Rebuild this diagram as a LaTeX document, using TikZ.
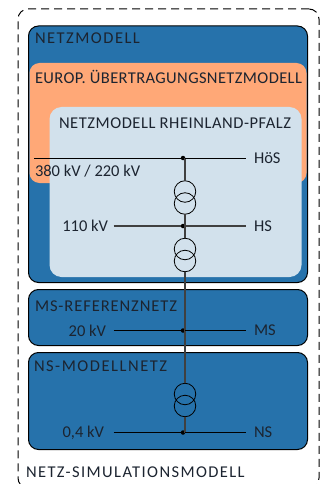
\documentclass[tikz,border=0pt]{standalone}
\usepackage{fontspec}
\setmainfont{Carlito}
\usetikzlibrary{positioning}
\definecolor{netzblue}{HTML}{2672AB}
\definecolor{europorange}{HTML}{FFA877}
\definecolor{rlplight}{HTML}{D2E1EC}
\definecolor{textdark}{HTML}{1C2430}
\definecolor{busgray}{HTML}{404040}

\begin{document}
\begin{tikzpicture}[x=1pt,y=-1pt,font=\fontsize{16.5}{20}\selectfont,text=textdark,
                    every node/.style={inner sep=0pt,outer sep=0pt},
                    region/.style={rectangle, anchor=north west, rounded corners=10pt},
                    netzbox/.style={region, draw=black, line width=1pt, fill=netzblue},
                    title/.style={anchor=west, font=\fontsize{16.5}{20}\selectfont\addfontfeature{LetterSpace=#1}},
                    bus/.style={line width=1pt, draw=black},
                    busthick/.style={line width=1.3pt, draw=busgray},
                    junction/.style={circle, fill=black, minimum size=4.5pt},
                    winding/.style={circle, draw=black, line width=0.8pt, minimum size=21.5pt},
                    feeder/.style={line width=1.2pt, draw=busgray}]
    \useasboundingbox (0,0) rectangle (322,484);
    \node (sim)    [region, draw=black, line width=1pt, dash pattern=on 8pt off 5pt,
                    minimum width=301pt, minimum height=479pt] at (18,9) {};
    \node (netz)   [netzbox, minimum width=279pt, minimum height=256.5pt] at (28.5,26) {};
    \node (europ)  [region, fill=europorange, minimum width=277pt, minimum height=120pt] at (29.5,63) {};
    \node (rlp)    [region, fill=rlplight, rounded corners=12pt, minimum width=252pt, minimum height=170pt] at (49.5,107) {};
    \node (ms)     [netzbox, minimum width=279pt, minimum height=56pt] at (28.5,289.5) {};
    \node (ns)     [netzbox, minimum width=279pt, minimum height=97pt] at (28.5,352.5) {};

    \node (netztitle)  [title=9] at (35,38.5)   {NETZMODELL};
    \node (europtitle) [title=2.3] at (35,77)   {EUROP. ÜBERTRAGUNGSNETZMODELL};
    \node (rlptitle)   [title=3.3] at (59,123)  {NETZMODELL RHEINLAND-PFALZ};
    \node (mstitle)    [title=5.6] at (35,306)  {MS-REFERENZNETZ};
    \node (nstitle)    [title=9.3] at (34,366)  {NS-MODELLNETZ};
    \node (simtitle)   [title=8.5] at (26,472)  {NETZ-SIMULATIONSMODELL};

    % bus bars
    \coordinate (hosl) at (34,158);
    \coordinate (hosr) at (246,158);
    \coordinate (hsl)  at (113.5,226);
    \coordinate (hsr)  at (246,226);
    \coordinate (msl)  at (113.5,330.5);
    \coordinate (msr)  at (246,330.5);
    \coordinate (nsl)  at (113.5,432.5);
    \coordinate (nsr)  at (246,432.5);

    \node (hosdot) [junction] at (183,158) {};
    \node (hsdot)  [junction] at (183,226) {};
    \node (msdot)  [junction] at (183,330.5) {};
    \node (nsdot)  [junction] at (183,432.5) {};

    % transformers
    \node (ta) [winding] at (185,191.5) {};
    \node (tb) [winding] at (185,203.5) {};
    \node (tc) [winding] at (185,249) {};
    \node (td) [winding] at (185,261) {};
    \node (te) [winding] at (185,394) {};
    \node (tf) [winding] at (185,406) {};

    \draw[feeder] (hosdot.center -| ta.north) -- (ta.north);
    \draw[feeder] (tb.south) -- (hsdot.center -| tb.south);
    \draw[feeder] (hsdot.center -| tc.north) -- (tc.north);
    \draw[feeder] (td.south) -- (msdot.center -| td.south);
    \draw[feeder] (msdot.center -| te.north) -- (te.north);
    \draw[feeder] (tf.south) -- (nsdot.center -| tf.south);

    \draw[bus] (hosl) -- (hosdot) -- (hosr);
    \draw[busthick] (hsl) -- (hsdot) -- (hsr);
    \draw[bus] (msl) -- (msdot) -- (msr);
    \draw[bus] (nsl) -- (nsdot) -- (nsr);

    \node (hoslabel) [right = 8pt of hosr] {HöS};
    \node (hslabel)  [right = 8pt of hsr]  {HS};
    \node (mslabel)  [right = 8pt of msr]  {MS};
    \node (nslabel)  [right = 8pt of nsr]  {NS};
    \node (hosvolt)  [anchor=west] at (35,171)   {380 kV / 220 kV};
    \node (hsvolt)   [left = 5.5pt of hsl]  {110 kV};
    \node (msvolt)   [left = 7.5pt of msl]  {20 kV};
    \node (nsvolt)   [left = 9.5pt of nsl]  {0,4 kV};
\end{tikzpicture}
\end{document}
